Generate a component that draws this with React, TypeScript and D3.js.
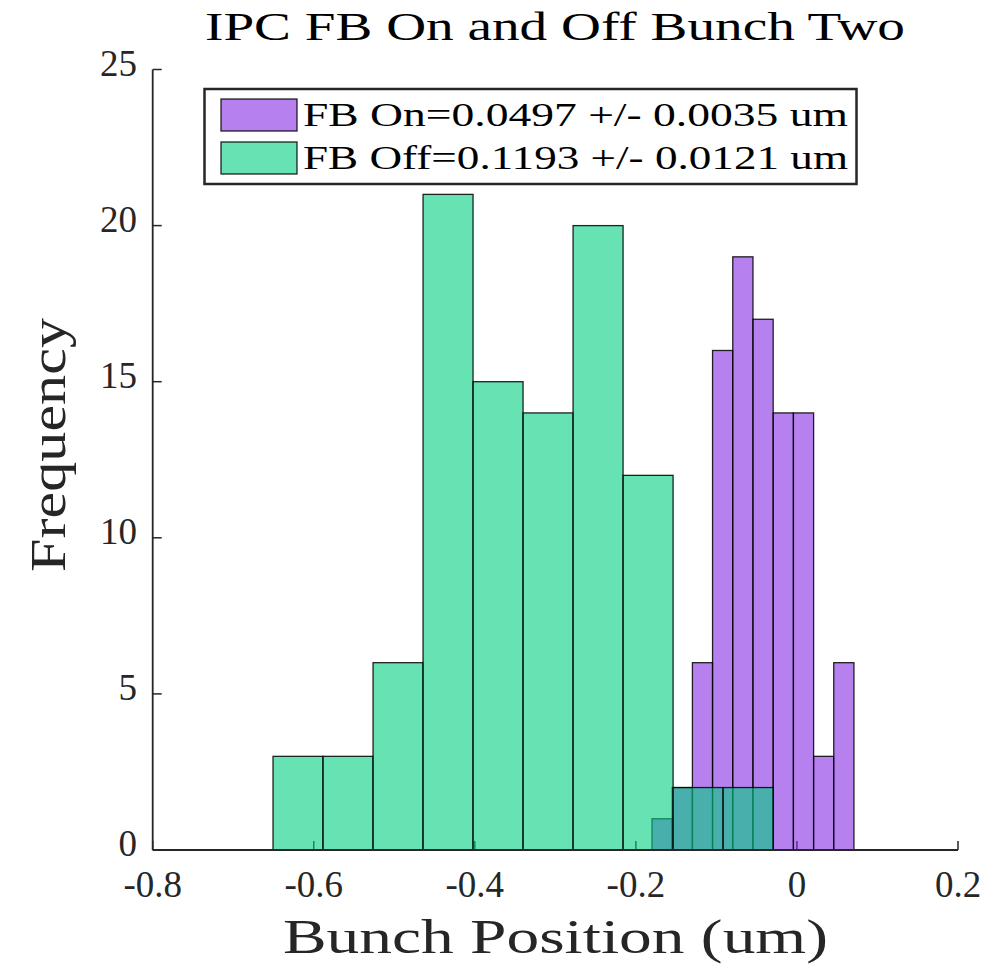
import React from "react";
import * as d3 from "d3";

const onEdges = [-0.18, -0.1549, -0.1298, -0.1048, -0.0797, -0.0546, -0.0295, -0.0044, 0.0207, 0.0457, 0.0708];
const onCounts = [1, 2, 6, 16, 19, 17, 14, 14, 3, 6];
const offEdges = [-0.6506, -0.5885, -0.5264, -0.4643, -0.4022, -0.3401, -0.278, -0.2159, -0.1538, -0.0917, -0.0296];
const offCounts = [3, 3, 6, 21, 15, 14, 20, 12, 2, 2];
const xTicks = [-0.8, -0.6, -0.4, -0.2, 0, 0.2];
const xTickLabels = ["-0.8", "-0.6", "-0.4", "-0.2", "0", "0.2"];
const yTicks = [0, 5, 10, 15, 20, 25];
const legendLabels = ["FB On=0.0497 +/- 0.0035 um", "FB Off=0.1193 +/- 0.0121 um"];
const titleText = "IPC FB On and Off Bunch Two";
const xLabel = "Bunch Position (um)";
const yLabel = "Frequency";

const W = 994;
const H = 966;
const FONT = "'Liberation Serif', 'DejaVu Serif', serif";
const AX = "#262626";
const ON_FILL = "rgb(135,44,228)";
const OFF_FILL = "rgb(0,206,128)";
const ALPHA = 0.6;

export default function App() {
  const x = d3.scaleLinear().domain([-0.8, 0.2]).range([152.7, 958]);
  const y = d3.scaleLinear().domain([0, 25]).range([850, 69.5]);

  const bars = (edges: number[], counts: number[], fill: string, key: string) =>
    counts.map((c, i) =>
      c > 0 ? (
        <rect
          key={key + i}
          x={x(edges[i])}
          y={y(c)}
          width={x(edges[i + 1]) - x(edges[i])}
          height={y(0) - y(c)}
          fill={fill}
          fillOpacity={ALPHA}
          stroke="#000"
          strokeWidth={1.3}
          strokeOpacity={0.85}
        />
      ) : null
    );

  return (
    <svg
      width={W}
      height={H}
      style={{ position: "absolute", left: 0, top: 0, background: "#fff" }}
      fontFamily={FONT}
    >
      <rect x={0} y={0} width={W} height={H} fill="#fff" />
      {xTicks.map((t, i) => (
        <line key={"xt" + i} x1={x(t)} x2={x(t)} y1={y(0)} y2={y(0) - 9} stroke={AX} strokeWidth={1.5} />
      ))}
      {yTicks.map((t, i) => (
        <line key={"yt" + i} x1={x(-0.8)} x2={x(-0.8) + 9} y1={y(t)} y2={y(t)} stroke={AX} strokeWidth={1.5} />
      ))}
      {bars(onEdges, onCounts, ON_FILL, "on")}
      {bars(offEdges, offCounts, OFF_FILL, "off")}
      <line x1={x(-0.8)} x2={x(0.2)} y1={y(0)} y2={y(0)} stroke={AX} strokeWidth={1.8} />
      <line x1={x(-0.8)} x2={x(-0.8)} y1={y(0)} y2={y(25)} stroke={AX} strokeWidth={1.8} />
      {xTicks.map((t, i) => (
        <text key={"xl" + i} x={x(t)} y={897} textAnchor="middle" fontSize={37} fill={AX}>
          {xTickLabels[i]}
        </text>
      ))}
      {yTicks.map((t, i) => (
        <text key={"yl" + i} x={137} y={y(t) + 6} textAnchor="end" fontSize={37} fill={AX}>
          {String(t)}
        </text>
      ))}
      <text x={555.5} y={953} textAnchor="middle" fontSize={48} fill={AX} textLength={545} lengthAdjust="spacingAndGlyphs">
        {xLabel}
      </text>
      <text
        transform={`translate(65,445) rotate(-90)`}
        textAnchor="middle"
        fontSize={50}
        fill={AX}
        textLength={254}
        lengthAdjust="spacingAndGlyphs"
      >
        {yLabel}
      </text>
      <text x={555} y={40} textAnchor="middle" fontSize={40} fill="#000" textLength={700} lengthAdjust="spacingAndGlyphs">
        {titleText}
      </text>
      <rect x={204.5} y={89} width={652} height={95} fill="#fff" stroke="#262626" strokeWidth={2.5} />
      {[ON_FILL, OFF_FILL].map((c, i) => (
        <g key={"lg" + i}>
          <rect
            x={221}
            y={99 + i * 43}
            width={76}
            height={32}
            fill={c}
            fillOpacity={ALPHA}
            stroke="#000"
            strokeWidth={1.3}
            strokeOpacity={0.85}
          />
          <text x={303} y={126 + i * 43} fontSize={33} fill="#000" textLength={545} lengthAdjust="spacingAndGlyphs">
            {legendLabels[i]}
          </text>
        </g>
      ))}
    </svg>
  );
}
